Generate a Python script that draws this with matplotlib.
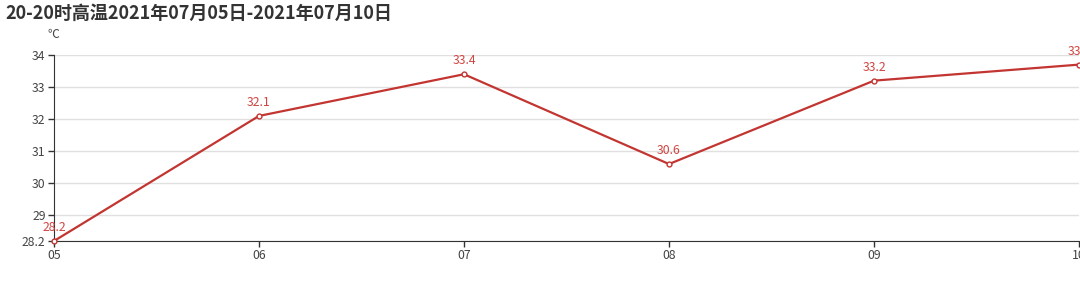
import matplotlib.pyplot as plt

plt.rcParams['font.family'] = ['Noto Sans CJK SC', 'DejaVu Sans']

# ============================================================
# Data
# ============================================================

days = ["05", "06", "07", "08", "09", "10"]
high_temp = [28.2, 32.1, 33.4, 30.6, 33.2, 33.7]
y_ticks = [28.2, 29, 30, 31, 32, 33, 34]

RED = "#c23531"
TEXT = "#444444"

# ============================================================
# Figure
# ============================================================

fig = plt.figure(figsize=(10.8, 2.97), dpi=100)
ax = fig.add_axes([54 / 1080, 1 - 241 / 297, 1025 / 1080, 186 / 297])

x = range(len(days))

ax.plot(
    x,
    high_temp,
    color=RED,
    linewidth=1.6,
    marker="o",
    markersize=3.5,
    markerfacecolor="white",
    markeredgecolor=RED,
    markeredgewidth=1,
    zorder=3,
    clip_on=False
)

for i, v in enumerate(high_temp):
    ax.annotate(
        f"{v:g}",
        (i, v),
        xytext=(0, 5),
        textcoords="offset points",
        ha="center",
        va="bottom",
        color="#d04540",
        fontsize=8.8,
        annotation_clip=False
    )

ax.set_xlim(0, len(days) - 1)
ax.set_ylim(28.2, 34)

ax.set_xticks(list(x))
ax.set_xticklabels(days)
ax.set_yticks(y_ticks)
ax.set_yticklabels([f"{t:g}" for t in y_ticks])

ax.grid(axis="y", color="#e0e0e0", linewidth=1)
ax.set_axisbelow(True)

for side in ["top", "right"]:
    ax.spines[side].set_visible(False)
ax.spines["left"].set_color("#333333")
ax.spines["bottom"].set_color("#333333")

ax.tick_params(axis="both", colors="#333333", labelcolor=TEXT, labelsize=8.8, length=4, width=1)
ax.tick_params(axis="x", pad=2)
ax.tick_params(axis="y", pad=2)

fig.text(53 / 1080, 1 - 35 / 297, "℃", fontsize=8.5, color=TEXT, ha="center", va="center")

fig.text(
    5 / 1080,
    1 - 13 / 297,
    "20-20时高温2021年07月05日-2021年07月10日",
    fontsize=13,
    fontweight="bold",
    color="#333333",
    ha="left",
    va="center"
)

fig.savefig("out.png", dpi=100)
